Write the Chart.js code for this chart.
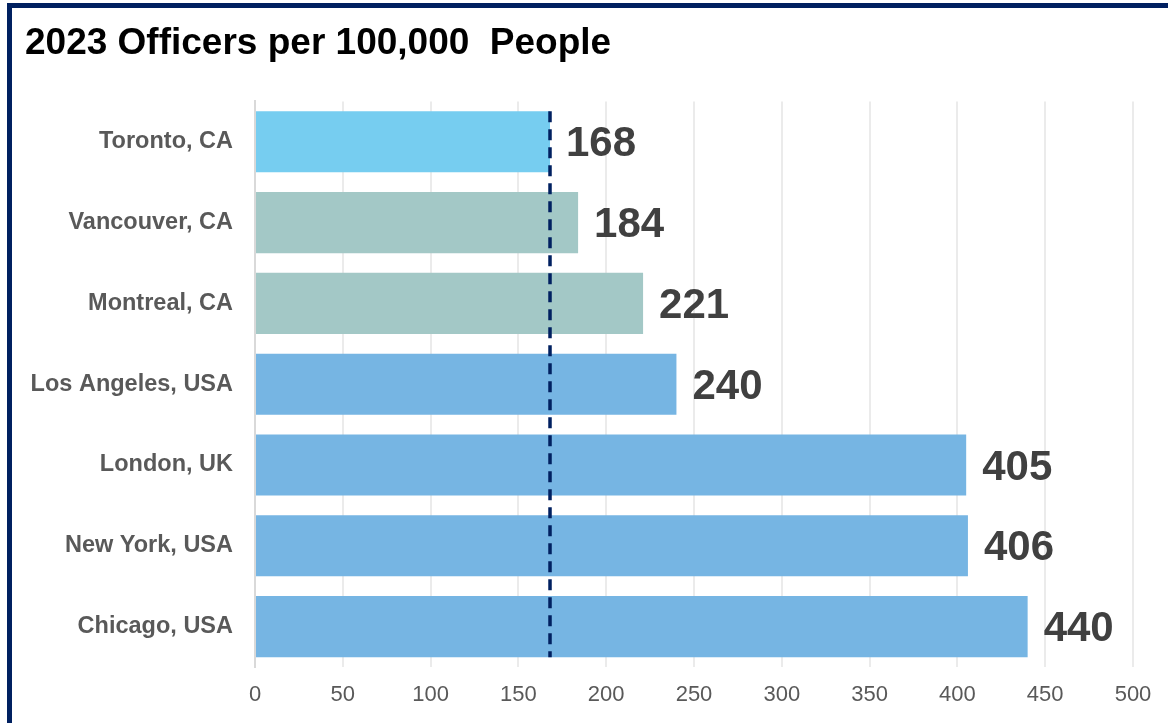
<!DOCTYPE html>
<html>
<head>
<meta charset="utf-8">
<script src="https://cdn.jsdelivr.net/npm/chart.js@4"></script>
<style>
  html,body{margin:0;padding:0;overflow:hidden;background:#fff;}
  .frame{position:absolute;left:7px;top:3px;width:1200px;height:760px;border:5px solid #002060;box-sizing:border-box;}
  .wrap{position:absolute;left:0;top:0;width:1168px;height:723px;}
</style>
</head>
<body>
<div class="frame"></div>
<div class="wrap"><canvas id="c"></canvas></div>
<script>
const cities = ['Toronto, CA','Vancouver, CA','Montreal, CA','Los Angeles, USA','London, UK','New York, USA','Chicago, USA'];
const officers = [168, 184, 221, 240, 405, 406, 440];
const barColors = ['#76CDF0','#A3C8C6','#A3C8C6','#76B5E3','#76B5E3','#76B5E3','#76B5E3'];
const refValue = 168; // Toronto reference line
const FONT = '"Liberation Sans", Arial, sans-serif';

// value labels at the end of each bar
const valueLabels = {
  id:'valueLabels',
  afterDatasetsDraw(chart){
    const ctx = chart.ctx, meta = chart.getDatasetMeta(0);
    ctx.save();
    ctx.font = 'bold 42px ' + FONT;
    ctx.fillStyle = '#404040';
    ctx.textAlign = 'left'; ctx.textBaseline = 'middle';
    meta.data.forEach((bar,i)=>{ ctx.fillText(String(officers[i]), bar.x + 16, bar.y + 3); });
    ctx.restore();
  }
};

// dashed reference line at Toronto's value
const refLine = {
  id:'refLine',
  afterDatasetsDraw(chart){
    const ctx = chart.ctx, meta = chart.getDatasetMeta(0);
    const x = chart.scales.x.getPixelForValue(refValue);
    const first = meta.data[0], last = meta.data[meta.data.length-1];
    ctx.save();
    ctx.strokeStyle = '#002060'; ctx.lineWidth = 3.5;
    ctx.setLineDash([11,7]);
    ctx.beginPath();
    ctx.moveTo(x, first.y - first.height/2);
    ctx.lineTo(x, last.y + last.height/2);
    ctx.stroke();
    ctx.restore();
  }
};

new Chart(document.getElementById('c'), {
  type:'bar',
  data:{ labels: cities, datasets:[{ data: officers, backgroundColor: barColors, categoryPercentage:0.756, barPercentage:1 }]},
  options:{
    indexAxis:'y', responsive:true, maintainAspectRatio:false, animation:false,
    layout:{ padding:{ left:25, right:35, top:14, bottom:0 } },
    plugins:{
      legend:{display:false}, tooltip:{enabled:false},
      title:{ display:true, text:'2023 Officers per 100,000  People', align:'start',
        color:'#000', font:{ family:FONT, size:37, weight:'bold' },
        padding:{ top:8, bottom:35 } }
    },
    scales:{
      x:{ afterFit(scale){ scale.height = 56; },
          min:0, max:500, ticks:{ stepSize:50, color:'#595959', padding:15,
            font:{ family:FONT, size:22 } },
          grid:{ color:'#EBEBEB', lineWidth:2, drawTicks:false },
          border:{ display:false } },
      y:{ afterFit(scale){ scale.width = 230; },
          ticks:{ color:'#595959', padding:22,
            font:{ family:FONT, size:23.5, weight:'bold' } },
          grid:{ display:false, drawTicks:false },
          border:{ display:true, color:'#D9D9D9', width:2 } }
    }
  },
  plugins:[refLine, valueLabels]
});
</script>
</body>
</html>
